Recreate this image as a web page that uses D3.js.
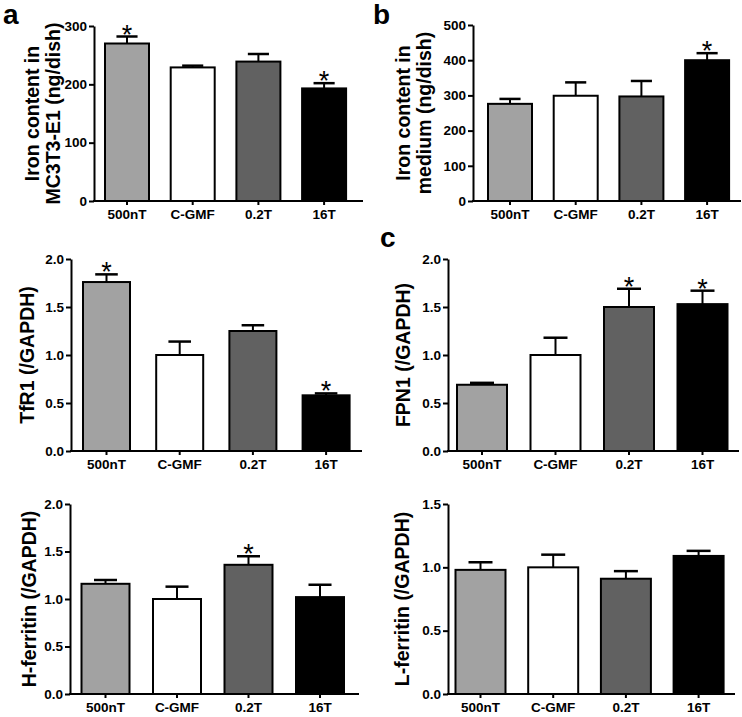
<!DOCTYPE html>
<html><head><meta charset="utf-8">
<script src="https://cdn.jsdelivr.net/npm/d3@7/dist/d3.min.js"></script>
<style>
body{margin:0;background:#fff;}
svg{display:block;font-family:"Liberation Sans",Arial,sans-serif;font-weight:bold;}
</style></head>
<body>
<svg id="chart" width="742" height="717"></svg>
<script>
const categories = ["500nT", "C-GMF", "0.2T", "16T"];
const barColors = ["#a2a2a2", "#ffffff", "#616161", "#000000"];

const ironCellMean = [270, 229, 239, 193];
const ironCellErr = [12, 3, 13, 9];
const ironCellSig = [true, false, false, true];

const ironMediumMean = [276, 299, 297, 400];
const ironMediumErr = [14, 38, 44, 20];
const ironMediumSig = [false, false, false, true];

const tfr1Mean = [1.76, 1.00, 1.25, 0.58];
const tfr1Err = [0.08, 0.14, 0.06, 0.02];
const tfr1Sig = [true, false, false, true];

const fpn1Mean = [0.69, 1.00, 1.50, 1.53];
const fpn1Err = [0.02, 0.18, 0.19, 0.14];
const fpn1Sig = [false, false, true, true];

const hFerritinMean = [1.16, 1.00, 1.36, 1.02];
const hFerritinErr = [0.04, 0.13, 0.09, 0.13];
const hFerritinSig = [false, false, true, false];

const lFerritinMean = [0.98, 1.00, 0.91, 1.09];
const lFerritinErr = [0.06, 0.10, 0.06, 0.04];
const lFerritinSig = [false, false, false, false];

const ticksIronCell = [0, 100, 200, 300];
const ticksIronMedium = [0, 100, 200, 300, 400, 500];
const ticksRatio2 = [0, 0.5, 1.0, 1.5, 2.0];
const ticksRatio15 = [0, 0.5, 1.0, 1.5];

const svg = d3.select("#chart");

function panel(o) {
  const g = svg.append("g");
  const n = categories.length;
  const p = 1 - o.w / o.step;
  const b0 = o.c0 - o.w / 2;
  const po = (b0 - o.axisX) / o.step;
  const r1 = o.axisX + o.step * (n - p + 2 * po);
  const x = d3.scaleBand().domain(categories).range([o.axisX, r1]).paddingInner(p).paddingOuter(po);
  const y = d3.scaleLinear().domain([0, o.yMax]).range([o.y0, o.yTop]);

  const data = categories.map((c, i) => ({c, m: o.mean[i], e: o.err[i], s: o.sig[i], col: barColors[i]}));

  g.selectAll("rect.bar").data(data).join("rect")
    .attr("x", d => x(d.c)).attr("width", x.bandwidth())
    .attr("y", d => y(d.m)).attr("height", d => y(0) - y(d.m))
    .attr("fill", d => d.col).attr("stroke", "#000").attr("stroke-width", 2);

  const cw = x.bandwidth() * 0.48;
  g.selectAll("line.ev").data(data).join("line")
    .attr("x1", d => x(d.c) + x.bandwidth() / 2).attr("x2", d => x(d.c) + x.bandwidth() / 2)
    .attr("y1", d => y(d.m)).attr("y2", d => y(d.m + d.e))
    .attr("stroke", "#000").attr("stroke-width", 2);
  g.selectAll("line.ec").data(data).join("line")
    .attr("x1", d => x(d.c) + x.bandwidth() / 2 - cw / 2).attr("x2", d => x(d.c) + x.bandwidth() / 2 + cw / 2)
    .attr("y1", d => y(d.m + d.e)).attr("y2", d => y(d.m + d.e))
    .attr("stroke", "#000").attr("stroke-width", 2.5);

  g.selectAll("text.star").data(data.filter(d => d.s)).join("text")
    .attr("x", d => x(d.c) + x.bandwidth() / 2).attr("y", d => y(d.m + d.e) + 7)
    .attr("text-anchor", "middle").attr("font-size", 27).attr("font-weight", "normal").text("*");

  const ya = g.append("g").attr("transform", `translate(${o.axisX},0)`)
    .call(d3.axisLeft(y).tickValues(o.ticks).tickSize(5).tickSizeOuter(0).tickFormat(o.fmt));
  ya.select(".domain").attr("stroke-width", 2);
  ya.selectAll(".tick line").attr("stroke-width", 2);
  ya.selectAll(".tick text").attr("font-size", 13.5).attr("font-family", "Liberation Sans, Arial, sans-serif").attr("font-weight", "bold").attr("x", -7).attr("fill", "#000");

  const xa = g.append("g").attr("transform", `translate(0,${o.y0})`)
    .call(d3.axisBottom(x).tickSize(4).tickSizeOuter(0));
  xa.select(".domain").remove();
  xa.selectAll(".tick line").attr("stroke-width", 2);
  xa.selectAll(".tick text").attr("font-size", 13.5).attr("font-family", "Liberation Sans, Arial, sans-serif").attr("font-weight", "bold").attr("y", 8).attr("fill", "#000");
  g.append("line").attr("x1", o.axisX - 1).attr("x2", o.axisEnd).attr("y1", o.y0).attr("y2", o.y0)
    .attr("stroke", "#000").attr("stroke-width", 2);

  const yMid = (o.y0 + o.yTop) / 2;
  o.title.forEach((t, i) => {
    g.append("text").attr("transform", `translate(${o.titleX[i]},${yMid}) rotate(-90)`)
      .attr("text-anchor", "middle").attr("dy", "0.36em").attr("font-size", 19.5).text(t);
  });
}

const f0 = d3.format("d"), f1 = d3.format(".1f");

panel({mean: ironCellMean, err: ironCellErr, sig: ironCellSig, yMax: 300, ticks: ticksIronCell, fmt: f0,
  axisX: 94, axisEnd: 363, y0: 201, yTop: 26, c0: 127, step: 65.7, w: 44,
  title: ["Iron content in", "MC3T3-E1 (ng/dish)"], titleX: [32, 53]});
panel({mean: ironMediumMean, err: ironMediumErr, sig: ironMediumSig, yMax: 500, ticks: ticksIronMedium, fmt: f0,
  axisX: 473, axisEnd: 741, y0: 201, yTop: 25, c0: 510, step: 65.7, w: 44,
  title: ["Iron content in", "medium (ng/dish)"], titleX: [403, 424]});
panel({mean: tfr1Mean, err: tfr1Err, sig: tfr1Sig, yMax: 2, ticks: ticksRatio2, fmt: f1,
  axisX: 71, axisEnd: 362, y0: 451, yTop: 259, c0: 106.5, step: 73.2, w: 47,
  title: ["TfR1 (/GAPDH)"], titleX: [27]});
panel({mean: fpn1Mean, err: fpn1Err, sig: fpn1Sig, yMax: 2, ticks: ticksRatio2, fmt: f1,
  axisX: 448, axisEnd: 739, y0: 451, yTop: 259, c0: 482, step: 73.5, w: 50,
  title: ["FPN1 (/GAPDH)"], titleX: [403]});
panel({mean: hFerritinMean, err: hFerritinErr, sig: hFerritinSig, yMax: 2, ticks: ticksRatio2, fmt: f1,
  axisX: 70, axisEnd: 359, y0: 694, yTop: 504, c0: 105.5, step: 71.5, w: 48,
  title: ["H-ferritin (/GAPDH)"], titleX: [29]});
panel({mean: lFerritinMean, err: lFerritinErr, sig: lFerritinSig, yMax: 1.5, ticks: ticksRatio15, fmt: f1,
  axisX: 448, axisEnd: 735, y0: 694, yTop: 504, c0: 480.5, step: 72.7, w: 50,
  title: ["L-ferritin (/GAPDH)"], titleX: [402]});

[["a", 3, 24], ["b", 373, 24], ["c", 380, 247]].forEach(([t, x, y]) => {
  svg.append("text").attr("x", x).attr("y", y).attr("font-size", 28).text(t);
});
</script>
</body></html>
